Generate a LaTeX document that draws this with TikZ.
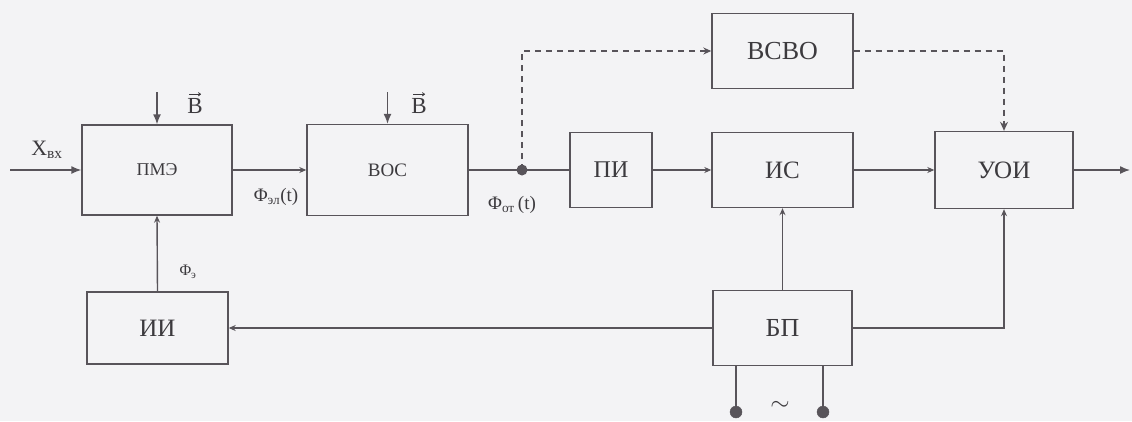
\documentclass[tikz,border=0pt]{standalone}
\usepackage{fontspec}
\setmainfont{Liberation Serif}
\usetikzlibrary{arrows.meta}
\definecolor{bgc}{RGB}{243,243,245}
\definecolor{lnc}{RGB}{88,84,90}
\definecolor{txc}{RGB}{60,58,62}
\tikzset{
  blk/.style={draw=lnc, line width=1.4pt, rectangle, inner sep=0pt, text=txc},
  ln/.style={draw=lnc, line width=1.4pt},
  arr/.style={ln, -{Stealth[length=7pt,width=6pt]}},
  bigarr/.style={ln, -{Latex[length=10pt,width=8pt]}},
  dsh/.style={ln, dashed, dash pattern=on 6pt off 5pt},
  lbl/.style={text=txc, inner sep=0pt},
  vecarr/.style={draw=txc, line width=0.8pt, -{To[length=3pt,width=4pt]}},
  term/.style={circle, fill=lnc, draw=lnc, minimum size=12pt, inner sep=0pt}
}
\begin{document}
\begin{tikzpicture}[x=1pt,y=-1pt]
\useasboundingbox (0,0) rectangle (1132,421);
\fill[bgc] (0,0) rectangle (1132,421);
% blocks
\node[blk, minimum width=150pt, minimum height=90pt, font=\fontsize{18}{20}\selectfont] (pme) at (157,170) {ПМЭ};
\node[blk, minimum width=161pt, minimum height=91pt, font=\fontsize{19}{21}\selectfont] (boc) at (387.5,170) {ВОС};
\node[blk, minimum width=141pt, minimum height=75pt, font=\fontsize{26}{28}\selectfont] (bcbo) at (782.5,51) {ВСВО};
\node[blk, minimum width=82pt, minimum height=75pt, font=\fontsize{24}{26}\selectfont] (pi) at (611,170) {ПИ};
\node[blk, minimum width=141pt, minimum height=75pt, font=\fontsize{25}{27}\selectfont] (is) at (782.5,170) {ИС};
\node[blk, minimum width=138pt, minimum height=77pt, font=\fontsize{25}{27}\selectfont] (uoi) at (1004,170) {УОИ};
\node[blk, minimum width=141pt, minimum height=72pt, font=\fontsize{25}{27}\selectfont] (ii) at (157.5,328) {ИИ};
\node[blk, minimum width=139pt, minimum height=75pt, font=\fontsize{26}{28}\selectfont] (bp) at (782.5,328) {БП};
% coordinates
\coordinate (in) at (10,170);
\coordinate (out) at (1130,170);
\coordinate (j) at (522,170);
\coordinate (b1) at (157,92);
\coordinate (b2) at (387.5,92);
\coordinate (t1) at (736,412);
\coordinate (t2) at (823,412);
% connectors
\draw[bigarr] (in) -- (pme.west);
\draw[arr] (pme.east) -- (boc.west);
\draw[ln] (boc.east) -- (pi.west);
\draw[arr] (pi.east) -- (is.west);
\draw[arr] (is.east) -- (uoi.west);
\draw[bigarr] (uoi.east) -- (out);
\draw[bigarr] (b1) -- (pme.north);
\draw[bigarr] (b2) -- (boc.north);
\draw[dsh, -{Stealth[length=8pt,width=7pt]}] (j) |- (bcbo.west);
\draw[dsh, -{Stealth[length=9pt,width=8pt]}] (bcbo.east) -| (uoi.north);
\fill[lnc] (j) circle (5.5pt);
\draw[arr] (ii.north) -- (pme.south);
\draw[arr] (bp.west) -- (ii.east);
\draw[arr] (bp.north) -- (is.south);
\draw[arr] (bp.east) -| (uoi.south);
\draw[ln] (bp.south -| t1) -- (t1);
\draw[ln] (bp.south -| t2) -- (t2);
\node[term] (tt1) at (t1) {};
\node[term] (tt2) at (t2) {};
% labels
\node[lbl, font=\fontsize{22}{24}\selectfont] (xin) at (47,150) {X\textsubscript{вх}};
\node[lbl, font=\fontsize{23}{25}\selectfont] (bl1) at (195,106) {B};
\node[lbl, font=\fontsize{23}{25}\selectfont] (bl2) at (419,106) {B};
\draw[vecarr] ([xshift=-6pt,yshift=4pt]bl1.north) -- ([xshift=6pt,yshift=4pt]bl1.north);
\draw[vecarr] ([xshift=-6pt,yshift=4pt]bl2.north) -- ([xshift=6pt,yshift=4pt]bl2.north);
\node[lbl, font=\fontsize{19}{21}\selectfont] (fel) at (276,197) {Φ\textsubscript{эл}(t)};
\node[lbl, font=\fontsize{19}{21}\selectfont] (fot) at (512,205) {Φ\textsubscript{от}\,(t)};
\node[lbl, font=\fontsize{16}{18}\selectfont] (fe) at (188,272) {Φ\textsubscript{э}};
\node[lbl, font=\fontsize{30}{32}\selectfont] (ac) at (780,406) {$\sim$};
\end{tikzpicture}
\end{document}
